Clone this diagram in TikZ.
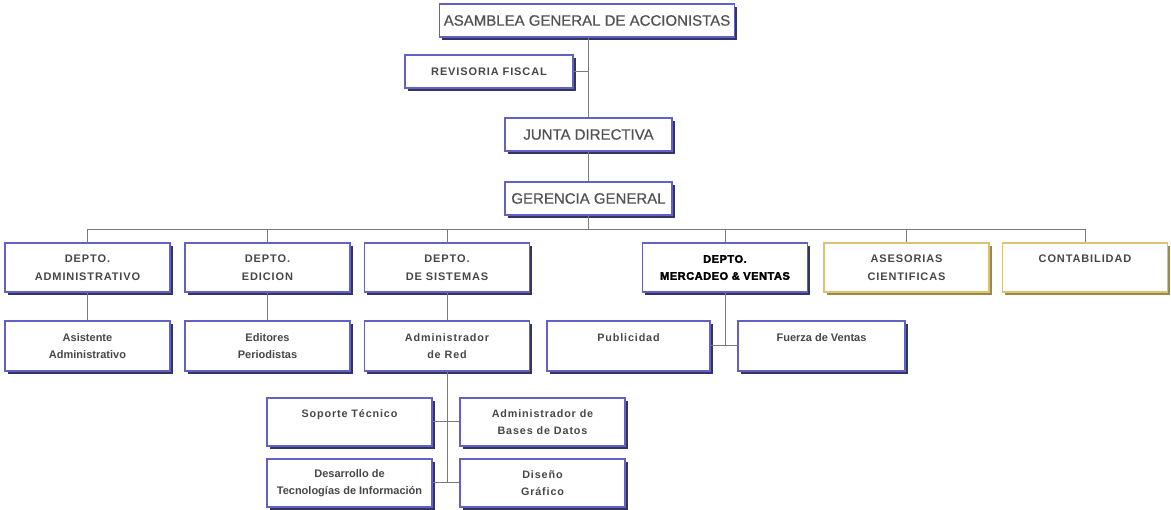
\documentclass[tikz,border=0pt]{standalone}
\usepackage{fontspec}
\setmainfont{Liberation Sans}
\newfontfamily\spacedf{Liberation Sans}[LetterSpace=8]
\newfontfamily\titlefam{Liberation Sans}[FakeBold=0.6]
\newfontfamily\heavyf{Liberation Sans}[BoldFeatures={FakeBold=2.5},LetterSpace=5]
\usetikzlibrary{shadows}
\definecolor{bord}{HTML}{6262C4}
\definecolor{shad}{HTML}{343462}
\definecolor{gbord}{HTML}{DCC274}
\definecolor{gshad}{HTML}{9E8848}
\definecolor{txt}{HTML}{474747}
\definecolor{ttxt}{HTML}{525252}
\definecolor{conn}{HTML}{7A7A7A}
\newcommand{\titlef}{\titlefam\fontsize{15}{18}\selectfont}
\newcommand{\deptf}{\spacedf\bfseries\fontsize{11}{18}\selectfont}
\newcommand{\subf}{\bfseries\fontsize{11}{17}\selectfont}
\newcommand{\subsp}{\spacedf\bfseries\fontsize{10.8}{17}\selectfont}
\tikzset{
  boxbase/.style={line width=1.6pt, fill=white, inner sep=0pt, align=center, text=txt},
  bbox/.style={boxbase, draw=bord, drop shadow={shadow xshift=2.8pt, shadow yshift=-2.8pt, fill=shad, opacity=1}},
  gbox/.style={boxbase, draw=gbord, drop shadow={shadow xshift=2.8pt, shadow yshift=-2.8pt, fill=gshad, opacity=1}},
  topbox/.style={bbox, minimum height=33pt, font=\titlef, text=ttxt},
  deptbox/.style={minimum width=165pt, minimum height=49pt, font=\deptf},
  subbox/.style={bbox, minimum width=165pt, minimum height=50pt},
  sysbox/.style={bbox, minimum width=165pt, minimum height=48pt},
  wire/.style={draw=conn, line width=1pt}
}
\begin{document}
\begin{tikzpicture}[x=1pt,y=-1pt]
\useasboundingbox (0,0) rectangle (1171,510);
% top chain
\node[topbox, minimum width=295pt] (asam) at (587,20.5) {ASAMBLEA GENERAL DE ACCIONISTAS};
\node[bbox, minimum width=168pt, minimum height=33pt, font=\spacedf\bfseries\fontsize{11}{13}\selectfont] (rev) at (489,71.5) {REVISORIA FISCAL};
\node[topbox, minimum width=167pt] (jun) at (588.5,134.5) {JUNTA DIRECTIVA};
\node[topbox, minimum width=167pt] (ger) at (588.5,198.5) {GERENCIA GENERAL};
% departments
\node[bbox, deptbox] (adm) at (87.5,267.5) {DEPTO.\\ADMINISTRATIVO};
\node[bbox, deptbox] (edi) at (267.5,267.5) {DEPTO.\\EDICION};
\node[bbox, deptbox] (sis) at (447,267.5) {DEPTO.\\DE SISTEMAS};
\node[bbox, deptbox, text=black, font=\heavyf\bfseries\fontsize{11}{17}\selectfont] (merc) at (725,267.5) {DEPTO.\\MERCADEO \& VENTAS};
\node[gbox, deptbox] (ases) at (906.5,267.5) {ASESORIAS\\CIENTIFICAS};
\node[gbox, deptbox] (cont) at (1085,267.5) {CONTABILIDAD\\\mbox{}};
% sub row
\node[subbox, font=\subf] (asis) at (87.5,346) {Asistente\\Administrativo};
\node[subbox, font=\subf] (edit) at (267.5,346) {Editores\\Periodistas};
\node[subbox, font=\subsp] (red) at (447,346) {Administrador\\de Red};
\node[subbox, minimum width=163pt, font=\subsp] (pub) at (628.5,346) {Publicidad\\\mbox{}};
\node[subbox, minimum width=167pt, font=\subf] (fza) at (821.5,346) {Fuerza de Ventas\\\mbox{}};
% sistemas subtree
\node[sysbox, font=\subsp] (sop) at (349.5,422) {Soporte Técnico\\\mbox{}};
\node[sysbox, font=\subsp] (abd) at (542.5,422) {Administrador de\\Bases de Datos};
\node[sysbox, font=\subf] (des) at (349.5,483) {Desarrollo de\\Tecnologías de Información};
\node[sysbox, font=\subsp] (dis) at (542.5,483) {Diseño\\Gráfico};
% connectors
\coordinate (bus) at (0,230);
\draw[wire] (asam.south -| jun.north) -- (jun.north);
\draw[wire] (rev.east) -- (rev.east -| jun.north);
\draw[wire] (jun.south) -- (ger.north);
\draw[wire] (ger.south) -- (ger.south |- bus);
\draw[wire] (adm.north) -- (adm.north |- bus) -- (cont.north |- bus) -- (cont.north);
\draw[wire] (edi.north) -- (edi.north |- bus);
\draw[wire] (sis.north) -- (sis.north |- bus);
\draw[wire] (merc.north) -- (merc.north |- bus);
\draw[wire] (ases.north) -- (ases.north |- bus);
\draw[wire] (adm.south) -- (asis.north);
\draw[wire] (edi.south) -- (edit.north);
\draw[wire] (sis.south) -- (red.north);
\draw[wire] (merc.south) -- (merc.south |- fza.west);
\draw[wire] (pub.east) -- (fza.west);
\draw[wire] (red.south) -- (red.south |- dis.west);
\draw[wire] (sop.east) -- (abd.west);
\draw[wire] (des.east) -- (dis.west);
\end{tikzpicture}
\end{document}
